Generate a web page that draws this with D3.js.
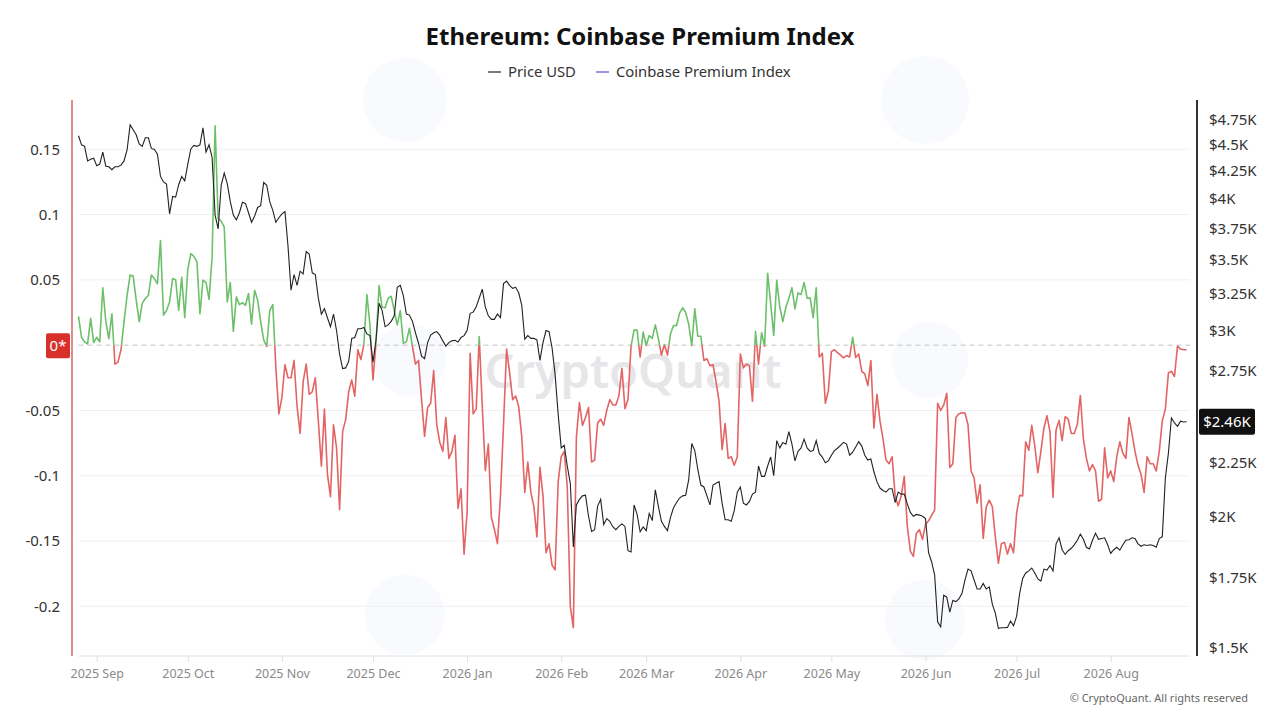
<!DOCTYPE html>
<html>
<head>
<meta charset="utf-8">
<title>Ethereum: Coinbase Premium Index</title>
<script src="https://cdn.jsdelivr.net/npm/d3@7/dist/d3.min.js"></script>
<style>
body { margin:0; background:#fff; font-family:"Noto Sans","Open Sans",sans-serif; }
</style>
</head>
<body>
<div id="chart"></div>
<script>
// daily values, first day = 2025-08-26
var startDate = new Date(Date.UTC(2025, 7, 26));

var price = [4590,4500,4485,4345,4360,4370,
 4300,4315,4430,4295,4290,4262,4290,4290,4305,4345,
 4450,4700,4650,4600,4510,4485,4570,4570,4465,4455,
 4410,4200,4150,4130,3870,4020,4015,4125,4200,4160,
 4315,4460,4495,4485,4500,4670,4430,4500,4380,3860,
 3745,4120,4230,4135,3975,3860,3820,3880,3970,3960,
 3880,3800,3850,3925,3940,4145,
 4120,3975,3900,3800,
 3838,3870,3890,3610,3276,3390,3311,3415,3395,3564,
 3545,3403,3390,3220,3110,3147,3085,3025,3110,3000,
 2850,2761,2765,2805,2949,2955,3012,3012,3020,2978,
 2967,2799,2940,3184,3135,3025,3037,3061,3098,3297,
 3311,3238,3110,3103,3061,2985,2918,2837,2821,2922,
 2970,2985,2993,2970,2933,2900,2922,
 2933,2937,2926,
 2955,2967,3000,3115,3123,3159,3221,3284,3159,3098,
 3074,3074,3110,3086,3324,3342,3311,3290,3297,3258,
 3172,2944,2967,2949,2949,2940,2810,2922,3000,2993,
 2888,2723,2498,2322,2335,2232,2149,1870,2050,2075,
 2091,2094,2000,1935,1942,2045,2075,1964,1990,1978,
 1955,1942,1956,1967,1956,1855,1850,2050,
 2008,1933,
 1954,1938,2012,1981,2119,2045,1978,1956,1938,1995,
 2038,2061,2081,2091,2094,2166,2344,2308,2215,2141,
 2132,2091,2050,2141,2149,2157,2058,1985,1985,1978,
 2025,2108,2132,2058,2050,2066,2099,2108,2232,2182,
 2182,2232,2276,2185,2359,2322,2350,2341,2406,2341,
 2257,2304,2322,2367,2322,2304,2309,2359,2294,
 2276,
 2248,2257,2285,2308,2320,2335,2350,2341,2285,2300,
 2326,2354,2331,2285,2261,2266,2204,2157,2127,2116,
 2108,2124,2124,2061,2108,2099,2099,2055,2017,2000,
 2008,2005,2000,1990,1847,1811,1760,1588,1571,1683,
 1676,1622,1664,1660,1670,1689,1740,1782,1775,1740,
 1706,1706,1727,1706,1714,1651,1619,1566,1568,1568,
 1569,1591,1575,1607,1689,1746,1767,1775,1786,1767,
 1744,1736,1782,1778,1796,1775,1883,1908,1859,1840,
 1855,1865,1879,1898,1923,1902,1869,1862,1898,1927,
 1902,1905,1908,1879,1844,1859,1869,1857,1879,1898,
 1900,1908,1905,1883,1873,1879,1876,1879,1876,1869,
 1905,1913,2174,2294,2479,2452,2434,2461,2457,2458];

var premium = [0.022,0.006,0.0025,0.001,0.0205,0.002,
 0.006,0.0025,0.044,0.018,0.005,0.024,-0.0145,-0.013,-0.0035,0.018,
 0.038,0.0537,0.053,0.0346,0.018,0.032,0.0357,0.038,0.0537,0.051,
 0.047,0.080,0.023,0.0265,0.033,0.051,0.050,0.0265,0.052,0.021,
 0.058,0.070,0.068,0.064,0.024,0.0497,0.048,0.035,0.067,0.168,
 0.097,0.095,0.0905,0.033,0.048,0.0106,0.037,0.031,0.0325,0.0305,
 0.0395,0.016,0.042,0.0346,0.018,0.004,
 -0.001,0.0265,0.031,-0.017,
 -0.0526,-0.040,-0.015,-0.025,-0.025,-0.0117,-0.047,-0.0676,-0.028,-0.0145,
 -0.0376,-0.0357,-0.025,-0.058,-0.0927,-0.049,-0.099,-0.116,-0.061,-0.0786,
 -0.126,-0.066,-0.057,-0.0357,-0.0267,-0.039,-0.0035,-0.011,0.0005,0.0387,
 0.0155,-0.0267,0.002,0.0456,0.029,0.0286,0.036,0.0374,0.0265,0.0155,
 0.0265,0.0014,0.0025,0.0128,-0.001,-0.0145,-0.0117,-0.0417,-0.0698,-0.0477,
 -0.0445,-0.0194,-0.0608,-0.0745,-0.0813,-0.0554,-0.0867,
 -0.0813,-0.069,-0.125,
 -0.110,-0.160,-0.128,-0.0063,-0.0526,-0.049,0.0065,-0.047,-0.096,-0.0758,
 -0.132,-0.141,-0.152,-0.115,-0.061,-0.003,-0.021,-0.0417,-0.039,-0.047,
 -0.070,-0.1127,-0.0895,-0.1127,-0.1236,-0.1468,-0.0936,-0.1154,-0.159,-0.152,
 -0.1686,-0.172,-0.1045,-0.0854,-0.0813,-0.1086,-0.200,-0.2163,-0.0704,-0.0439,
 -0.0614,-0.0554,-0.0477,-0.0895,-0.088,-0.0595,-0.0567,-0.0614,-0.050,-0.0417,
 -0.0458,-0.0458,-0.039,-0.0177,-0.0486,-0.0417,-0.0008,0.0115,
 0.0115,-0.009,
 0.010,-0.0003,0.0074,0.0052,0.0155,0.0052,-0.0076,0.0005,-0.0076,0.0087,
 0.015,0.015,0.0245,0.0286,0.025,0.016,-0.0003,0.0278,0.0068,0.0068,
 -0.0117,-0.0104,-0.0158,-0.015,-0.028,-0.043,-0.080,-0.060,-0.0867,-0.0854,
 -0.092,-0.0854,-0.0068,-0.0172,-0.0145,-0.0158,-0.043,0.0106,-0.0145,0.0095,
 -0.0008,0.055,0.032,0.0074,0.0496,0.029,0.018,0.029,0.036,0.044,
 0.0278,0.040,0.0387,0.048,0.036,0.036,0.021,0.044,-0.009,
 -0.0063,
 -0.0445,-0.035,-0.005,-0.0035,-0.0057,-0.0076,-0.0098,-0.008,-0.009,0.006,
 -0.0095,-0.0068,-0.020,-0.022,-0.031,-0.0117,-0.0636,-0.0376,-0.058,-0.0717,
 -0.088,-0.0908,-0.0854,-0.1154,-0.123,-0.1154,-0.1004,-0.1386,-0.1577,-0.1618,
 -0.144,-0.1413,-0.1487,-0.1372,-0.1345,-0.1304,-0.1263,-0.0445,-0.050,-0.0458,
 -0.0368,-0.0936,-0.0908,-0.0554,-0.0526,-0.0518,-0.052,-0.061,-0.0963,-0.1017,
 -0.121,-0.107,-0.148,-0.124,-0.1187,-0.1236,-0.1468,-0.167,-0.152,-0.151,
 -0.160,-0.152,-0.159,-0.129,-0.115,-0.1154,-0.074,-0.0805,-0.0614,-0.0772,
 -0.0977,-0.0813,-0.0636,-0.054,-0.0663,-0.1167,-0.065,-0.0576,-0.0731,-0.0548,
 -0.0567,-0.0676,-0.0676,-0.0608,-0.0385,-0.0717,-0.0867,-0.0963,-0.0914,-0.0963,
 -0.1195,-0.118,-0.0786,-0.1017,-0.0963,-0.1045,-0.0854,-0.074,-0.0827,-0.0867,
 -0.0554,-0.0676,-0.0813,-0.092,-0.099,-0.1127,-0.0854,-0.0908,-0.0908,-0.0963,
 -0.0813,-0.058,-0.049,-0.0213,-0.020,-0.024,-0.0008,-0.003,-0.0035,-0.0035];

var leftTicks = [0.15, 0.1, 0.05, -0.05, -0.1, -0.15, -0.2];
var rightTicks = [1500, 1750, 2000, 2250, 2750, 3000, 3250, 3500, 3750, 4000, 4250, 4500, 4750];
var legendNames = ["Price USD", "Coinbase Premium Index"];

var width = 1280, height = 720;
var plot = {left:78.5, right:1186.6, gridEnd:1190, top:100, bottom:656};

var dates = price.map(function (d, i) { return d3.utcDay.offset(startDate, i); });

var x = d3.scaleUtc()
    .domain([dates[0], dates[dates.length - 1]])
    .range([plot.left, plot.right]);

var yL = d3.scaleLinear()
    .domain([-0.238, 0.1877])
    .range([plot.bottom, plot.top]);

var yR = d3.scaleLog()
    .domain([1474, 4963])
    .range([plot.bottom, plot.top]);

var svg = d3.select('#chart')
    .append('svg')
    .attr('width', width)
    .attr('height', height)
    .style('font-family', '"Noto Sans","Open Sans",sans-serif');

// faint background logo blobs
var blobs = [[405,100,42],[925,100,44],[405,615,40],[925,620,40],[410,360,36],[930,360,38]];
svg.append('g').selectAll('circle')
    .data(blobs)
    .enter()
    .append('circle')
    .attr('cx', d => d[0]).attr('cy', d => d[1]).attr('r', d => d[2])
    .attr('fill', '#f9fafd');

// title + legend
svg.append('text')
    .attr('x', 640).attr('y', 45)
    .attr('text-anchor', 'middle')
    .attr('font-size', 24)
    .attr('font-weight', 700)
    .attr('fill', '#111')
    .text('Ethereum: Coinbase Premium Index');

var legendColors = ['#222', '#a193e3'];
var legendX = [488, 596];
var legend = svg.selectAll('.legend')
    .data(legendNames)
    .enter()
    .append('g')
    .attr('class', 'legend')
    .attr('transform', (d, i) => 'translate(' + legendX[i] + ',72)');
legend.append('line')
    .attr('x1', 0).attr('x2', 13)
    .attr('stroke', (d, i) => legendColors[i])
    .attr('stroke-width', (d, i) => i ? 2 : 1.2);
legend.append('text')
    .attr('x', 20).attr('y', 5)
    .attr('font-size', 14.8)
    .attr('fill', '#333')
    .text(d => d);

// gridlines for left axis
svg.append('g').selectAll('line')
    .data(leftTicks)
    .enter()
    .append('line')
    .attr('x1', plot.left).attr('x2', plot.gridEnd)
    .attr('y1', d => yL(d)).attr('y2', d => yL(d))
    .attr('stroke', '#f0f0f0');

// watermark
svg.append('text')
    .attr('x', 633).attr('y', 388)
    .attr('text-anchor', 'middle')
    .attr('font-size', 47)
    .attr('font-weight', 600)
    .attr('fill', '#e6e6e9')
    .text('CryptoQuant');

// zero line
svg.append('line')
    .attr('x1', plot.left).attr('x2', plot.gridEnd)
    .attr('y1', yL(0)).attr('y2', yL(0))
    .attr('stroke', '#c4c4c4')
    .attr('stroke-dasharray', '5,4');

// x axis
var xAxis = svg.append('g')
    .attr('transform', 'translate(0,' + plot.bottom + ')')
    .call(d3.axisBottom(x)
        .ticks(d3.utcMonth.every(1))
        .tickFormat(d3.utcFormat('%Y %b'))
        .tickSize(6)
        .tickSizeOuter(0));
xAxis.select('.domain').attr('stroke', '#e0e0e0').attr('d', 'M' + plot.left + ',0H' + plot.gridEnd);
xAxis.selectAll('.tick line').attr('stroke', '#e0e0e0');
xAxis.selectAll('.tick text')
    .attr('fill', '#8a8a8a')
    .attr('font-size', 12.5)
    .attr('font-family', '"Noto Sans","Open Sans",sans-serif')
    .attr('dy', '1.05em');

// left axis
var leftAxis = svg.append('g')
    .attr('transform', 'translate(72,0)')
    .call(d3.axisLeft(yL)
        .tickValues(leftTicks)
        .tickFormat(d => String(d))
        .tickSize(0)
        .tickPadding(12));
leftAxis.select('.domain').remove();
leftAxis.selectAll('.tick text')
    .attr('fill', '#333')
    .attr('font-size', 15)
    .attr('font-family', '"Noto Sans","Open Sans",sans-serif');
svg.append('line')
    .attr('x1', 72).attr('x2', 72)
    .attr('y1', plot.top).attr('y2', plot.bottom)
    .attr('stroke', '#e58a8a')
    .attr('stroke-width', 2);

// right axis
var rightAxis = svg.append('g')
    .attr('transform', 'translate(1197,0)')
    .call(d3.axisRight(yR)
        .tickValues(rightTicks)
        .tickFormat(d => '$' + (d / 1000) + 'K')
        .tickSize(0)
        .tickPadding(12));
rightAxis.select('.domain').remove();
rightAxis.selectAll('.tick text')
    .attr('fill', '#333')
    .attr('font-size', 15)
    .attr('font-family', '"Noto Sans","Open Sans",sans-serif');
svg.append('line')
    .attr('x1', 1197).attr('x2', 1197)
    .attr('y1', plot.top).attr('y2', plot.bottom)
    .attr('stroke', '#333')
    .attr('stroke-width', 2);

// premium line, green above zero and red below
var defs = svg.append('defs');
defs.append('clipPath').attr('id', 'above')
    .append('rect')
    .attr('x', 0).attr('y', plot.top - 10)
    .attr('width', width).attr('height', yL(0) - plot.top + 10);
defs.append('clipPath').attr('id', 'below')
    .append('rect')
    .attr('x', 0).attr('y', yL(0))
    .attr('width', width).attr('height', plot.bottom - yL(0) + 10);

var premiumLine = d3.line()
    .x((d, i) => x(dates[i]))
    .y(d => yL(d));

svg.append('path')
    .datum(premium)
    .attr('d', premiumLine)
    .attr('clip-path', 'url(#above)')
    .attr('fill', 'none')
    .attr('stroke', '#6cc06a')
    .attr('stroke-width', 1.6)
    .attr('stroke-linejoin', 'round');
svg.append('path')
    .datum(premium)
    .attr('d', premiumLine)
    .attr('clip-path', 'url(#below)')
    .attr('fill', 'none')
    .attr('stroke', '#e36464')
    .attr('stroke-width', 1.6)
    .attr('stroke-linejoin', 'round');

// price line
var priceLine = d3.line()
    .x((d, i) => x(dates[i]))
    .y(d => yR(d));
svg.append('path')
    .datum(price)
    .attr('d', priceLine)
    .attr('fill', 'none')
    .attr('stroke', '#222')
    .attr('stroke-width', 1.1);

// zero marker on left
var zeroTag = svg.append('g').attr('transform', 'translate(46,' + (yL(0) - 12) + ')');
zeroTag.append('rect')
    .attr('width', 24).attr('height', 25).attr('rx', 2)
    .attr('fill', '#d8312c');
zeroTag.append('text')
    .attr('x', 12).attr('y', 18)
    .attr('text-anchor', 'middle')
    .attr('font-size', 15)
    .attr('fill', '#fff')
    .text('0*');

// last price tag
var lastPrice = price[price.length - 1];
var priceTag = svg.append('g').attr('transform', 'translate(1199,' + (yR(lastPrice) - 13) + ')');
priceTag.append('rect')
    .attr('width', 56).attr('height', 26).attr('rx', 2)
    .attr('fill', '#111');
priceTag.append('text')
    .attr('x', 28).attr('y', 18.5)
    .attr('text-anchor', 'middle')
    .attr('font-size', 15)
    .attr('fill', '#fff')
    .text('$' + d3.format('.2f')(lastPrice / 1000) + 'K');

// footer
svg.append('text')
    .attr('x', 1248).attr('y', 702)
    .attr('text-anchor', 'end')
    .attr('font-size', 11)
    .attr('fill', '#666')
    .text('\u00a9 CryptoQuant. All rights reserved');
</script>
</body>
</html>
